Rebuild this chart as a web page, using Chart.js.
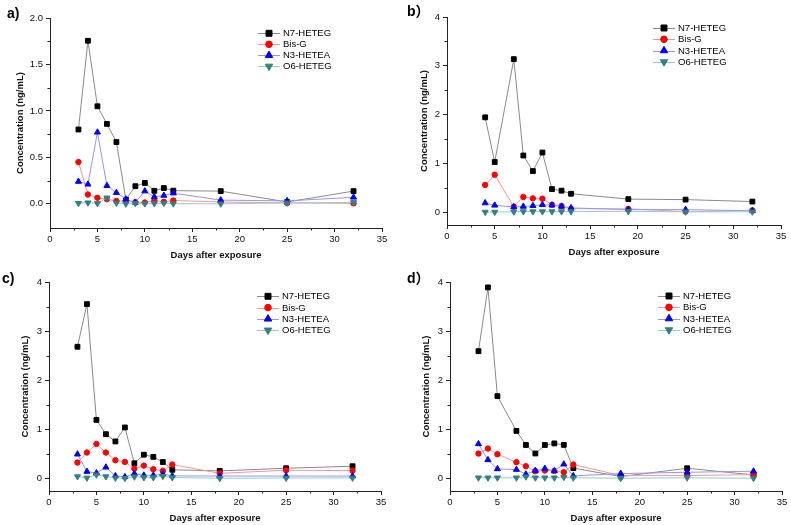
<!DOCTYPE html>
<html>
<head>
<meta charset="utf-8">
<script src="https://cdn.jsdelivr.net/npm/chart.js"></script>
<style>
  html, body { margin: 0; padding: 0; background: #fff; }
  #wrap { position: relative; width: 791px; height: 525px; overflow: hidden; }
  #wrap canvas { position: absolute; }
  .tag { position: absolute; font: bold 14px "Liberation Sans", Arial, "Noto Sans CJK SC", sans-serif; line-height: 1; color: #000; }
</style>
</head>
<body>
<div id="wrap">
  <canvas id="chartA" width="395" height="262" style="left:0;top:0"></canvas>
  <canvas id="chartB" width="396" height="262" style="left:395px;top:0"></canvas>
  <canvas id="chartC" width="395" height="263" style="left:0;top:262px"></canvas>
  <canvas id="chartD" width="396" height="263" style="left:395px;top:262px"></canvas>
  <div class="tag" style="left:7px;top:6px">a)</div>
  <div class="tag" style="left:407px;top:4px">b）</div>
  <div class="tag" style="left:2px;top:271px">c)</div>
  <div class="tag" style="left:407px;top:271px">d）</div>
</div>
<script>
const SERIES_NAMES = ['N7-HETEG', 'Bis-G', 'N3-HETEA', 'O6-HETEG'];
const X_TICKS = [0, 5, 10, 15, 20, 25, 30, 35];
const Y_TICKS_A = [0, 0.5, 1.0, 1.5, 2.0];
const Y_TICKS_BCD = [0, 1, 2, 3, 4];

// a) 
const A_DAYS = [3, 4, 5, 6, 7, 8, 9, 10, 11, 12, 13, 18, 25, 32];
const A_N7 = [0.80, 1.755, 1.05, 0.86, 0.665, 0.045, 0.19, 0.225, 0.14, 0.17, 0.142, 0.137, 0.02, 0.137];
const A_BISG = [0.45, 0.10, 0.065, 0.05, 0.032, 0.027, 0.018, 0.014, 0.035, 0.022, 0.036, 0.02, 0.01, 0.005];
const A_N3 = [0.24, 0.21, 0.77, 0.195, 0.12, 0.05, 0.015, 0.137, 0.075, 0.09, 0.115, 0.04, 0.032, 0.07];
const A_O6 = [0.007, 0.012, 0.005, 0.065, 0.01, 0.0, 0.005, 0.003, 0.003, 0.008, 0.002, 0.0, 0.01, 0.015];

// b)
const B_DAYS = [4, 5, 7, 8, 9, 10, 11, 12, 13, 19, 25, 32];
const B_N7 = [1.945, 1.03, 3.137, 1.163, 0.845, 1.224, 0.475, 0.443, 0.38, 0.27, 0.26, 0.22];
const B_BISG = [0.56, 0.77, 0.115, 0.314, 0.286, 0.28, 0.155, 0.13, 0.075, 0.07, 0.015, 0.04];
const B_N3 = [0.19, 0.143, 0.11, 0.12, 0.135, 0.155, 0.145, 0.12, 0.09, 0.055, 0.055, 0.03];
const B_O6 = [0.005, 0.005, 0.01, 0.015, 0.015, 0.015, 0.015, 0.015, 0.015, 0.02, 0.01, 0.01];

// c)
const C_DAYS = [3, 4, 5, 6, 7, 8, 9, 10, 11, 12, 13, 18, 25, 32];
const C_N7 = [2.68, 3.55, 1.19, 0.898, 0.75, 1.035, 0.305, 0.48, 0.435, 0.33, 0.172, 0.15, 0.204, 0.245];
const C_BISG = [0.32, 0.524, 0.70, 0.524, 0.367, 0.333, 0.195, 0.258, 0.184, 0.15, 0.279, 0.10, 0.163, 0.155];
const C_N3 = [0.49, 0.136, 0.105, 0.224, 0.048, 0.027, 0.095, 0.06, 0.06, 0.085, 0.048, 0.045, 0.045, 0.045];
const C_O6 = [0.034, 0.007, 0.07, 0.034, 0.007, 0.0, 0.03, 0.015, 0.015, 0.04, 0.015, 0.0, 0.005, 0.007];

// d)
const D_DAYS = [3, 4, 5, 7, 8, 9, 10, 11, 12, 13, 18, 25, 32];
const D_N7 = [2.59, 3.89, 1.673, 0.965, 0.678, 0.505, 0.678, 0.71, 0.68, 0.207, 0.034, 0.204, 0.068];
const D_BISG = [0.503, 0.605, 0.49, 0.327, 0.245, 0.143, 0.156, 0.15, 0.122, 0.279, 0.054, 0.054, 0.075];
const D_N3 = [0.70, 0.374, 0.19, 0.177, 0.082, 0.156, 0.197, 0.15, 0.286, 0.048, 0.095, 0.122, 0.143];
const D_O6 = [0.01, 0.01, 0.01, 0.01, 0.03, 0.01, 0.01, 0.01, 0.02, 0.01, 0.0, 0.01, 0.0];

const FONT = '"Liberation Sans", Arial, sans-serif';
const AXIS_COLOR = '#222';
// r = size in the plot, lr = size in the legend
const STYLES = [
    { line: '#8a8a8a', mark: '#000000', shape: 'rect', r: 3.4, lr: 4.2, rot: 0 },
    { line: '#ff9494', mark: '#ff0000', shape: 'circle', r: 2.7, lr: 3.3, rot: 0 },
    { line: '#9494ff', mark: '#0000ff', shape: 'triangle', r: 3.5, lr: 4.3, rot: 0 },
    { line: '#94cccc', mark: '#347f7f', shape: 'triangle', r: 3.5, lr: 4.3, rot: 180 }
];

function drawMarker(ctx, shape, rot, x, y, r) {
    ctx.beginPath();
    if (shape === 'rect') {
        const s = r * Math.SQRT1_2;
        ctx.rect(x - s, y - s, 2 * s, 2 * s);
    } else if (shape === 'circle') {
        ctx.arc(x, y, r, 0, Math.PI * 2);
    } else {
        let a = rot * Math.PI / 180;
        for (let k = 0; k < 3; k++) {
            const px = x + Math.sin(a) * r, py = y - Math.cos(a) * r;
            if (k === 0) ctx.moveTo(px, py); else ctx.lineTo(px, py);
            a += Math.PI * 2 / 3;
        }
        ctx.closePath();
    }
    ctx.fill();
    ctx.stroke();
}

// legend like the origin one: short line with the marker in the middle
const originLegend = {
    id: 'originLegend',
    afterDraw(chart, args, opts) {
        const ctx = chart.ctx;
        ctx.save();
        ctx.font = '9.5px ' + FONT;
        ctx.textBaseline = 'middle';
        SERIES_NAMES.forEach((name, i) => {
            const st = STYLES[i];
            const y = opts.y + i * opts.gap;
            ctx.strokeStyle = st.line;
            ctx.lineWidth = 1;
            ctx.beginPath();
            ctx.moveTo(opts.x, Math.round(y) + 0.5);
            ctx.lineTo(opts.x + 22, Math.round(y) + 0.5);
            ctx.stroke();
            ctx.fillStyle = st.mark;
            ctx.strokeStyle = st.mark;
            drawMarker(ctx, st.shape, st.rot, opts.x + 11, y, st.lr);
            ctx.fillStyle = '#000';
            ctx.fillText(name, opts.x + 25, y + 0.5);
        });
        ctx.restore();
    }
};

// small minor ticks half way between the major ones
const minorTicks = {
    id: 'minorTicks',
    afterDraw(chart) {
        const ctx = chart.ctx;
        const xs = chart.scales.x, ys = chart.scales.y;
        ctx.save();
        ctx.strokeStyle = AXIS_COLOR;
        ctx.lineWidth = 1;
        ctx.beginPath();
        for (let i = 0; i < xs.ticks.length - 1; i++) {
            const px = Math.round(xs.getPixelForValue((xs.ticks[i].value + xs.ticks[i + 1].value) / 2)) + 0.5;
            ctx.moveTo(px, xs.top);
            ctx.lineTo(px, xs.top + 2.5);
        }
        for (let i = 0; i < ys.ticks.length - 1; i++) {
            const py = Math.round(ys.getPixelForValue((ys.ticks[i].value + ys.ticks[i + 1].value) / 2)) + 0.5;
            ctx.moveTo(ys.right, py);
            ctx.lineTo(ys.right - 2.5, py);
        }
        ctx.stroke();
        ctx.restore();
    }
};

function makeChart(id, days, series, yMax, yTicks, decimals, p) {
    const datasets = series.map((vals, i) => ({
        label: SERIES_NAMES[i],
        data: days.map((d, k) => ({ x: d, y: vals[k] })),
        borderColor: STYLES[i].line,
        borderWidth: 1,
        pointStyle: STYLES[i].shape,
        pointRotation: STYLES[i].rot,
        pointRadius: STYLES[i].r,
        pointBackgroundColor: STYLES[i].mark,
        pointBorderColor: STYLES[i].mark,
        pointBorderWidth: 1,
        tension: 0,
        order: 4 - i,
        clip: false
    }));

    const grid = {
        display: true,
        drawOnChartArea: false,
        drawTicks: true,
        tickLength: 4,
        tickColor: AXIS_COLOR,
        tickWidth: 1
    };
    const border = { display: true, color: AXIS_COLOR, width: 1 };

    return new Chart(document.getElementById(id), {
        type: 'line',
        data: { datasets: datasets },
        options: {
            responsive: false,
            animation: false,
            devicePixelRatio: 1,
            layout: { padding: { left: 0, top: p.top, right: p.right, bottom: 0 } },
            plugins: {
                legend: { display: false },
                tooltip: { enabled: false },
                originLegend: { x: p.legX, y: p.legY, gap: p.legGap }
            },
            scales: {
                x: {
                    type: 'linear',
                    min: 0,
                    max: 35,
                    afterBuildTicks: s => { s.ticks = X_TICKS.map(v => ({ value: v })); },
                    afterFit: s => { s.height = p.xh; },
                    ticks: {
                        font: { family: FONT, size: 9.5 },
                        color: '#111',
                        padding: 1.5,
                        maxRotation: 0,
                        autoSkip: false,
                        callback: v => String(v)
                    },
                    grid: grid,
                    border: border,
                    title: {
                        display: true,
                        text: 'Days after exposure',
                        font: { family: FONT, size: 9.5, weight: 'bold' },
                        color: '#111',
                        padding: { top: 0, bottom: p.xtb }
                    }
                },
                y: {
                    type: 'linear',
                    min: -0.26,
                    max: yMax,
                    afterBuildTicks: s => { s.ticks = yTicks.map(v => ({ value: v })); },
                    afterFit: s => { s.width = p.yw; },
                    ticks: {
                        font: { family: FONT, size: 9.5 },
                        color: '#111',
                        padding: 3,
                        autoSkip: false,
                        callback: v => Number(v).toFixed(decimals)
                    },
                    grid: grid,
                    border: border,
                    title: {
                        display: true,
                        text: 'Concentration (ng/mL)',
                        font: { family: FONT, size: 9.5, weight: 'bold' },
                        color: '#111',
                        padding: { top: p.ytt, bottom: 0 }
                    }
                }
            }
        },
        plugins: [minorTicks, originLegend]
    });
}

makeChart('chartA', A_DAYS, [A_N7, A_BISG, A_N3, A_O6], 2.0, Y_TICKS_A, 1,
    { top: 18, right: 13, yw: 50, xh: 34, ytt: 14.3, xtb: 1.3, legX: 258, legY: 33.3, legGap: 11 });
makeChart('chartB', B_DAYS, [B_N7, B_BISG, B_N3, B_O6], 4, Y_TICKS_BCD, 0,
    { top: 17, right: 10, yw: 52, xh: 37, ytt: 23.6, xtb: 4, legX: 258, legY: 28, legGap: 11.3 });
makeChart('chartC', C_DAYS, [C_N7, C_BISG, C_N3, C_O6], 4, Y_TICKS_BCD, 0,
    { top: 20, right: 14, yw: 49, xh: 34, ytt: 19.3, xtb: 0.6, legX: 257, legY: 34.3, legGap: 11.3 });
makeChart('chartD', D_DAYS, [D_N7, D_BISG, D_N3, D_O6], 4, Y_TICKS_BCD, 0,
    { top: 20, right: 9, yw: 55, xh: 34, ytt: 26, xtb: 0.6, legX: 263, legY: 34, legGap: 11.3 });
</script>
</body>
</html>
